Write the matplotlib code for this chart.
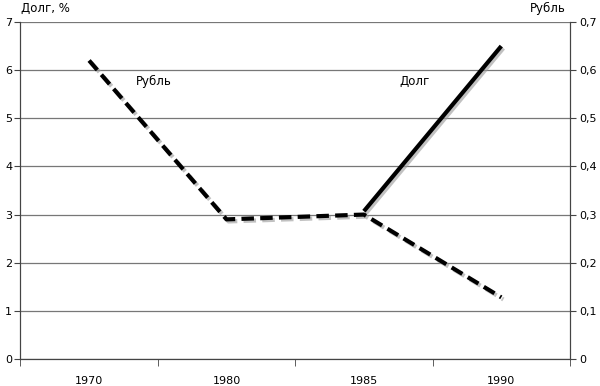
import numpy as np
import matplotlib
matplotlib.use("Agg")
import matplotlib.pyplot as plt
import matplotlib.patheffects as pe

years = ["1970", "1980", "1985", "1990"]
rubl = [0.62, 0.29, 0.30, 0.128]      # right axis
dolg_years = ["1985", "1990"]
dolg = [3.07, 6.5]                     # left axis, %

left_ticks = [0, 1, 2, 3, 4, 5, 6, 7]
right_ticks = [0, 0.1, 0.2, 0.3, 0.4, 0.5, 0.6, 0.7]
right_labels = ["0", "0,1", "0,2", "0,3", "0,4", "0,5", "0,6", "0,7"]

plt.rcParams["font.family"] = ["DejaVu Sans"]

fig = plt.figure(figsize=(6, 3.86), dpi=100)
ax = fig.add_axes([0.034, 0.07, 0.916, 0.873])
ax2 = ax.twinx()

x = np.arange(len(years))
shadow = [pe.SimpleLineShadow(offset=(1.5, -1.5), shadow_color="#999999", alpha=0.6), pe.Normal()]

ax.set_ylim(0, 7)
ax.set_xlim(-0.5, len(years) - 0.5)
ax.set_yticks(left_ticks)
ax.set_yticklabels([str(t) for t in left_ticks], fontsize=8)
ax.grid(axis="y", color="#777777", linewidth=0.9)
ax.set_axisbelow(True)

ax.set_xticks(x)
ax.set_xticklabels(years, fontsize=8)
ax.set_xticks(np.arange(-0.5, len(years)), minor=True)
ax.tick_params(axis="x", which="major", length=0, pad=12.5)
ax.tick_params(axis="x", which="minor", length=5, direction="out", color="#444444")
ax.tick_params(axis="y", length=4, color="#444444", pad=2)

ax2.set_ylim(0, 0.7)
ax2.set_yticks(right_ticks)
ax2.set_yticklabels(right_labels, fontsize=8)
ax2.tick_params(axis="y", length=4, color="#444444", pad=3)

for a in (ax, ax2):
    a.spines["top"].set_visible(False)
    a.spines["left"].set_color("#444444")
    a.spines["right"].set_color("#444444")
    a.spines["bottom"].set_color("#444444")

dx = [years.index(y) for y in dolg_years]
ax.plot(dx, dolg, color="black", linewidth=3, solid_capstyle="butt", path_effects=shadow)
ax2.plot(x, rubl, color="black", linewidth=3, linestyle=(0, (3, 1.5)), dash_capstyle="butt", path_effects=shadow)

ax.text(0.34, 5.76, "Рубль", fontsize=8.5, va="center")
ax.text(2.26, 5.76, "Долг", fontsize=8.5, va="center")
fig.text(0.035, 0.977, "Долг, %", fontsize=8.5, va="center")
fig.text(0.943, 0.977, "Рубль", fontsize=8.5, va="center", ha="right")

plt.savefig("out.png", dpi=100)
